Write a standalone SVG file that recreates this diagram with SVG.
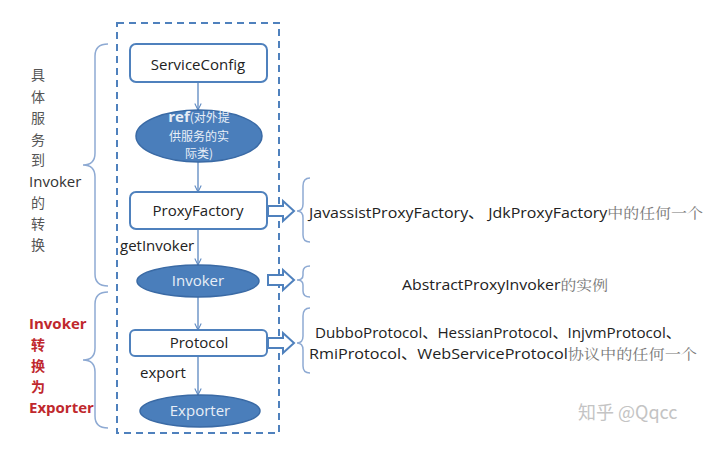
<svg xmlns="http://www.w3.org/2000/svg" width="720" height="450" viewBox="0 0 720 450">
<defs>
<marker id="ah" viewBox="0 0 10 10" refX="9" refY="5" markerWidth="8" markerHeight="8" orient="auto" markerUnits="userSpaceOnUse">
<path d="M1,1 L9,5 L1,9" fill="none" stroke="#5b87c0" stroke-width="1.3"/>
</marker>
</defs>
<style>
.box{fill:#fff;stroke:#4f81bd;stroke-width:2}
.ell{fill:#4a7ebb;stroke:#3a6aa5;stroke-width:1.5}
.lbl{font-family:"Open Sans","Noto Sans","Noto Sans CJK SC",sans-serif;font-size:15px;fill:#222;text-anchor:middle}
.wlbl{font-family:"Open Sans","Noto Sans","Noto Sans CJK SC",sans-serif;font-size:15px;fill:#e8eef7;text-anchor:middle}
.wsm{font-family:"Noto Sans CJK SC","Noto Sans",sans-serif;font-size:12px;fill:#e8eef7;text-anchor:middle}
.txt{font-family:"Open Sans","Noto Sans","Noto Sans CJK SC",sans-serif;font-size:14px;fill:#222}
.txt15{font-family:"Open Sans","Noto Sans",sans-serif;font-size:15px;fill:#222}
.cjk{font-family:"Noto Serif CJK SC","Noto Sans CJK SC",serif;fill:#777}
.brace{fill:none;stroke:#8eaad3;stroke-width:1.5}
.conn{fill:none;stroke:#5b87c0;stroke-width:1.3}
.hol{fill:#fff;stroke:#4f81bd;stroke-width:2;stroke-linejoin:miter}
.side{font-family:"Noto Sans CJK SC","Noto Sans",sans-serif;font-size:14px;fill:#555;text-anchor:middle}
.sidelat{font-family:"Open Sans","Noto Sans",sans-serif;font-size:15px;fill:#333}
.red{font-family:"Open Sans","Noto Sans","Noto Sans CJK SC",sans-serif;font-size:15px;font-weight:bold;fill:#c0282d}
.redc{font-family:"Noto Sans CJK SC","Noto Sans",sans-serif;font-size:14px;font-weight:bold;fill:#c0282d;text-anchor:middle}
</style>
<rect x="0" y="0" width="720" height="450" fill="#fff"/>
<rect id="container" x="117" y="23" width="162" height="410" fill="none" stroke="#4f81bd" stroke-width="2" stroke-dasharray="7,5"/>
<g id="connectors">
<line class="conn" x1="198" y1="82" x2="198" y2="110" marker-end="url(#ah)"/>
<line class="conn" x1="198" y1="162" x2="198" y2="192" marker-end="url(#ah)"/>
<line class="conn" x1="198" y1="229" x2="198" y2="265" marker-end="url(#ah)"/>
<line class="conn" x1="198" y1="297" x2="198" y2="330" marker-end="url(#ah)"/>
<line class="conn" x1="198" y1="356" x2="198" y2="395" marker-end="url(#ah)"/>
<polygon class="hol" points="268,206 283,206 283,201 294,211 283,221 283,216 268,216"/>
<polygon class="hol" points="268,275 283,275 283,270 294,280 283,290 283,285 268,285"/>
<polygon class="hol" points="268,338 283,338 283,333 294,343 283,353 283,348 268,348"/>
</g>
<g id="ServiceConfig">
<rect class="box" x="130" y="44" width="137" height="38" rx="6"/>
<text class="lbl" x="198" y="70">ServiceConfig</text>
</g>
<g id="ref">
<ellipse class="ell" cx="199" cy="136" rx="63" ry="26"/>
<text class="wsm" x="199" y="122"><tspan style="font-family:'Open Sans',sans-serif;font-weight:bold;font-size:15px">ref</tspan>(对外提</text>
<text class="wsm" x="199" y="141">供服务的实</text>
<text class="wsm" x="199" y="158">际类)</text>
</g>
<g id="ProxyFactory">
<rect class="box" x="130" y="192" width="137" height="37" rx="6"/>
<text class="lbl" x="198" y="216">ProxyFactory</text>
</g>
<text class="txt15" x="120" y="251">getInvoker</text>
<g id="Invoker">
<ellipse class="ell" cx="198" cy="281" rx="61" ry="16"/>
<text class="wlbl" x="198" y="286">Invoker</text>
</g>
<g id="Protocol">
<rect class="box" x="130" y="330" width="137" height="26" rx="5"/>
<text class="lbl" x="199" y="348">Protocol</text>
</g>
<text class="txt15" x="140" y="378">export</text>
<g id="Exporter">
<ellipse class="ell" cx="200" cy="411" rx="60" ry="16"/>
<text class="wlbl" x="200" y="416">Exporter</text>
</g>
<g id="braces">
<path class="brace" d="M108,44 Q95,44 95,56 L95,153 Q95,165 83,165 Q95,165 95,177 L95,274 Q95,286 108,286"/>
<path class="brace" d="M108,292 Q95,292 95,304 L95,348 Q95,360 83,360 Q95,360 95,372 L95,416 Q95,428 108,428"/>
<path class="brace" d="M310,178 Q303,178 303,186 L303,204 Q303,211 297,211 Q303,211 303,218 L303,235 Q303,242 310,242"/>
<path class="brace" d="M310,266 Q303,266 303,272 L303,275 Q303,280 297,280 Q303,280 303,285 L303,291 Q303,297 310,297"/>
<path class="brace" d="M310,308 Q303,308 303,316 L303,336 Q303,343 297,343 Q303,343 303,350 L303,366 Q303,373 310,373"/>
</g>
<g id="left-label-1">
<text class="side" x="38" y="80">具</text>
<text class="side" x="38" y="102">体</text>
<text class="side" x="38" y="123">服</text>
<text class="side" x="38" y="145">务</text>
<text class="side" x="38" y="165">到</text>
<text class="sidelat" x="29" y="187">Invoker</text>
<text class="side" x="38" y="208">的</text>
<text class="side" x="38" y="229">转</text>
<text class="side" x="38" y="250">换</text>
</g>
<g id="left-label-2">
<text class="red" x="29" y="329">Invoker</text>
<text class="redc" x="38" y="350">转</text>
<text class="redc" x="38" y="371">换</text>
<text class="redc" x="38" y="392">为</text>
<text class="red" x="29" y="413">Exporter</text>
</g>
<g id="right-texts">
<text class="txt" x="309" y="218" textLength="394" lengthAdjust="spacingAndGlyphs">JavassistProxyFactory、 JdkProxyFactory<tspan class="cjk">中的任何一个</tspan></text>
<text class="txt" x="402" y="290" textLength="206" lengthAdjust="spacingAndGlyphs">AbstractProxyInvoker<tspan class="cjk">的实例</tspan></text>
<text class="txt" x="315" y="338" textLength="366" lengthAdjust="spacingAndGlyphs">DubboProtocol、HessianProtocol、InjvmProtocol、</text>
<text class="txt" x="309" y="359" textLength="388" lengthAdjust="spacingAndGlyphs">RmiProtocol、WebServiceProtocol<tspan class="cjk">协议中的任何一个</tspan></text>
</g>
<text x="578" y="419" font-family="Noto Sans CJK SC,Noto Sans,sans-serif" font-size="18" fill="#c4c4c4">知乎 @Qqcc</text>
</svg>
